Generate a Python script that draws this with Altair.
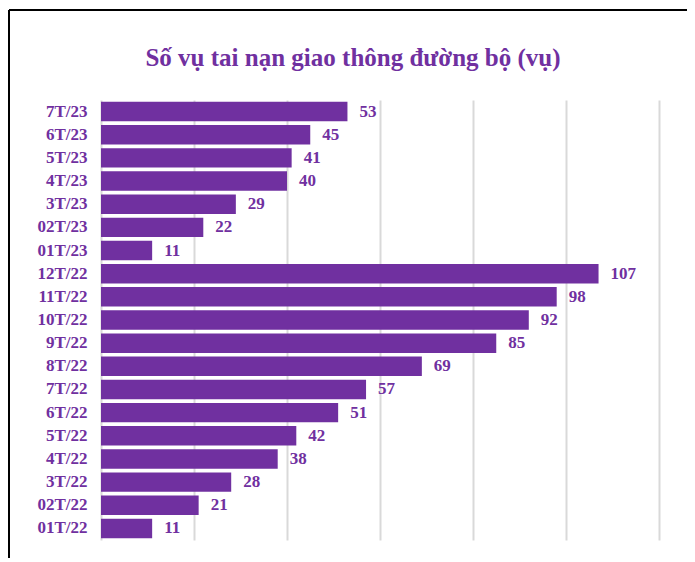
import altair as alt
import pandas as pd

months = ["7T/23", "6T/23", "5T/23", "4T/23", "3T/23", "02T/23", "01T/23",
          "12T/22", "11T/22", "10T/22", "9T/22", "8T/22", "7T/22", "6T/22",
          "5T/22", "4T/22", "3T/22", "02T/22", "01T/22"]
accidents = [53, 45, 41, 40, 29, 22, 11, 107, 98, 92, 85, 69, 57, 51, 42, 38, 28, 21, 11]
title_text = "Số vụ tai nạn giao thông đường bộ (vụ)"

df = pd.DataFrame({"month": months, "value": accidents})

PURPLE = "#7030A0"
FONT = "Liberation Serif"

y_enc = alt.Y("month:N", sort=months, title=None,
              scale=alt.Scale(paddingInner=0.16, paddingOuter=0.08),
              axis=alt.Axis(domain=False, ticks=False, labelFont=FONT, labelFontSize=17,
                            labelFontWeight="bold", labelColor=PURPLE, labelPadding=14))
x_enc = alt.X("value:Q", title=None,
              scale=alt.Scale(domain=[0, 120], nice=False),
              axis=alt.Axis(values=[0, 20, 40, 60, 80, 100, 120], labels=False, ticks=False,
                            domain=False, grid=True, gridColor="#d9d9d9", gridWidth=2))

bars = alt.Chart(df).mark_bar(color=PURPLE).encode(x=x_enc, y=y_enc)
labels = alt.Chart(df).mark_text(align="left", baseline="middle", dx=12, font=FONT,
                                 fontSize=17, fontWeight="bold", color=PURPLE).encode(
    x="value:Q", y=alt.Y("month:N", sort=months), text="value:Q")

frame = pd.DataFrame({"k": [0]})
left_line = alt.Chart(frame).mark_rule(color="black", strokeWidth=2).encode(
    x=alt.value(-92), y=alt.value(-90), y2=alt.value(470))
top_line = alt.Chart(frame).mark_rule(color="black", strokeWidth=2).encode(
    x=alt.value(-92), x2=alt.value(600), y=alt.value(-90))
title = alt.Chart(frame).mark_text(align="center", baseline="alphabetic", font=FONT,
                                   fontSize=25, fontWeight="bold", color=PURPLE).encode(
    x=alt.value(252), y=alt.value(-34), text=alt.value(title_text))

chart = alt.layer(bars, labels, left_line, top_line, title).properties(
    width=558, height=440,
    autosize=alt.AutoSizeParams(type="none"),
    padding={"left": 93, "top": 92, "right": 28, "bottom": 18},
).configure_view(stroke=None)

chart.save("out.html", embed_options={"renderer": "svg", "actions": False})
